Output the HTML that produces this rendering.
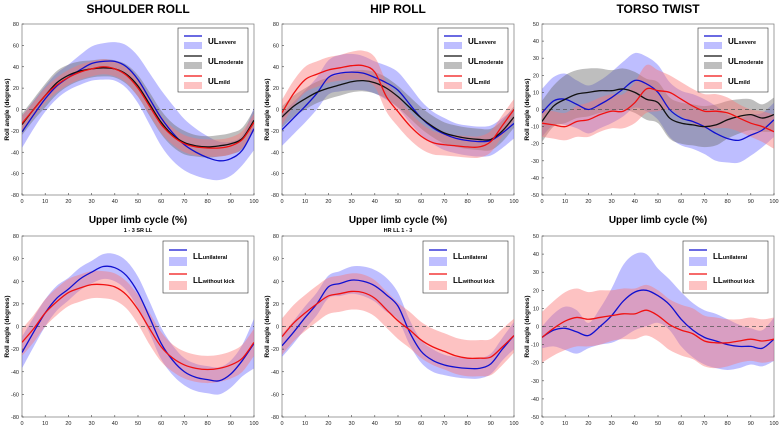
<!DOCTYPE html>
<html><head><meta charset="utf-8"><style>
body{margin:0;background:#fff;font-family:"Liberation Sans",sans-serif}
svg text{font-family:"Liberation Sans",sans-serif}
</style></head><body>
<svg id="c" width="779" height="426" xmlns="http://www.w3.org/2000/svg"></svg>
<script>
const xTicks=[0,10,20,30,40,50,60,70,80,90,100];
const xs=[0,5,10,15,20,25,30,35,40,45,50,55,60,65,70,75,80,85,90,95,100];
// Shoulder roll UL
const srSevere=[-21,-5,10,22,30,37,43,45,45,40,28,10,-8,-22,-33,-40,-45,-48,-46,-38,-18];
const srSevereBand=[15,13,12,12,12,14,16,17,18,20,22,24,26,26,24,22,20,18,16,14,20];
const srModerate=[-14,0,13,25,32,36,38,39,38,33,22,5,-12,-24,-31,-34,-35,-34,-32,-27,-10];
const srModerateBand=[10,10,11,11,10,9,8,8,8,9,10,11,11,11,11,10,10,10,10,10,10];
const srMild=[-13,0,13,23,30,35,38,40,38,32,20,3,-14,-25,-32,-35,-36,-36,-34,-28,-12];
const srMildBand=[7,7,7,7,7,7,7,7,7,7,8,8,8,8,8,8,8,8,8,8,8];
// Hip roll UL
const hrSevere=[-19,-8,3,15,30,34,35,34,30,25,18,5,-8,-17,-23,-27,-29,-30,-29,-22,-13];
const hrSevereBand=[15,15,15,15,16,17,17,16,15,16,17,17,16,15,15,14,14,14,14,14,14];
const hrModerate=[-7,3,10,16,20,23,26,27,25,20,12,2,-8,-16,-22,-25,-27,-28,-28,-20,-7];
const hrModerateBand=[10,10,10,10,10,10,10,10,10,10,10,10,10,10,10,10,10,10,10,10,10];
const hrMild=[-3,15,28,33,37,39,41,41,35,12,-2,-15,-25,-31,-33,-34,-35,-35,-30,-15,0];
const hrMildBand=[12,12,12,12,12,12,13,14,14,14,14,13,12,11,10,10,10,10,10,10,10];
// Torso twist UL
const ttSevere=[-2,5,6,3,0,3,7,12,17,15,10,0,-5,-7,-10,-14,-17,-18,-15,-12,-6];
const ttSevereBand=[14,14,15,14,14,14,15,16,16,16,16,16,16,16,16,16,14,13,12,10,10];
const ttModerate=[-7,2,6,9,10,11,11,12,10,6,4,-5,-8,-9,-10,-9,-6,-4,-3,-5,-3];
const ttModerateBand=[12,12,14,14,14,13,12,12,12,12,12,12,12,12,12,12,11,10,9,8,10];
const ttMild=[-8,-9,-10,-7,-6,-3,-1,-1,4,12,11,10,6,2,-1,-1,-2,-5,-8,-10,-13];
const ttMildBand=[8,8,8,9,10,10,10,10,12,14,12,10,10,10,10,10,9,8,8,9,10];
// LL shoulder
const slUni=[-23,-5,12,25,33,42,48,53,52,45,30,8,-15,-30,-40,-45,-47,-48,-42,-30,-15];
const slUniBand=[14,13,12,11,10,10,10,11,12,13,14,14,14,13,12,12,12,12,12,14,22];
const slNoKick=[-14,-2,12,22,30,34,37,37,35,28,15,-2,-18,-28,-34,-37,-38,-37,-34,-28,-14];
const slNoKickBand=[12,12,12,12,12,12,12,12,12,12,13,14,13,12,12,12,12,12,12,12,12];
// LL hip
const hlUni=[-17,-5,8,20,35,38,41,40,36,28,18,-5,-22,-30,-34,-36,-37,-37,-33,-20,-8];
const hlUniBand=[10,10,10,10,10,11,12,13,14,15,12,11,10,10,9,9,9,9,9,10,12];
const hlNoKick=[-9,3,12,20,27,29,31,30,25,15,5,-3,-12,-18,-22,-26,-28,-28,-27,-18,-8];
const hlNoKickBand=[16,16,16,16,16,16,16,16,16,16,16,16,16,16,16,16,16,16,16,16,15];
// LL torso
const tlUni=[-6,-2,-1,-3,-5,0,6,14,19,20,17,12,4,-2,-6,-8,-10,-11,-11,-12,-7];
const tlUniBand=[6,9,12,12,7,10,15,20,21,20,15,14,15,15,15,15,14,12,10,10,12];
const tlNoKick=[-6,-1,3,5,4,5,6,7,7,9,6,1,-2,-4,-8,-9,-9,-8,-7,-8,-7];
const tlNoKickBand=[14,15,16,16,15,15,14,14,14,14,14,14,14,14,14,14,13,12,12,12,12];
const yTicks80=[80,60,40,20,0,-20,-40,-60,-80];
const yTicks50=[50,40,30,20,10,0,-10,-20,-30,-40,-50];

const NS="http://www.w3.org/2000/svg",svg=document.getElementById('c');
function el(t,a,p){const e=document.createElementNS(NS,t);for(const k in a)e.setAttribute(k,a[k]);(p||svg).appendChild(e);return e;}
function txt(x,y,s,a,p){const e=el('text',Object.assign({x:x,y:y},a),p);e.textContent=s;return e;}
function curve(pts){let d='M'+pts[0][0]+','+pts[0][1];for(let i=0;i<pts.length-1;i++){const p0=pts[Math.max(0,i-1)],p1=pts[i],p2=pts[i+1],p3=pts[Math.min(pts.length-1,i+2)];
d+=' C'+(p1[0]+(p2[0]-p0[0])/6)+','+(p1[1]+(p2[1]-p0[1])/6)+' '+(p2[0]-(p3[0]-p1[0])/6)+','+(p2[1]-(p3[1]-p1[1])/6)+' '+p2[0]+','+p2[1];}return d;}
const COL={blue:['#1010d0','rgba(110,110,255,0.45)'],black:['#111','rgba(110,110,110,0.45)'],red:['#f01010','rgba(250,120,120,0.45)']};
function panel(o){
 const g=el('g',{},svg);
 
 
 const X=v=>o.x0+(o.x1-o.x0)*v/100, Y=v=>o.y0+(o.y1-o.y0)*(o.ymax-v)/(2*o.ymax);
 el('rect',{x:o.x0,y:o.y0,width:o.x1-o.x0,height:o.y1-o.y0,fill:'#fff',stroke:'#777','stroke-width':0.7},g);
 const cp='cp'+o.name;const cl=el('clipPath',{id:cp},g);el('rect',{x:o.x0,y:o.y0,width:o.x1-o.x0,height:o.y1-o.y0},cl);
 const pg=el('g',{'clip-path':'url(#'+cp+')'},g);
 o.series.forEach(s=>{
  const up=xs.map((x,i)=>[X(x),Y(s.m[i]+s.b[i])]), lo=xs.map((x,i)=>[X(x),Y(s.m[i]-s.b[i])]).reverse();
  const band=el('path',{d:curve(up)+' L'+curve(lo).slice(1)+' Z',fill:COL[s.c][1],stroke:'none'},pg);
  
  
 });
 el('line',{x1:o.x0,x2:o.x1,y1:Y(0),y2:Y(0),stroke:'#555','stroke-dasharray':'4,3','stroke-width':0.8},pg);
 o.series.forEach(s=>{
  const ln=el('path',{d:curve(xs.map((x,i)=>[X(x),Y(s.m[i])])),fill:'none',stroke:COL[s.c][0],'stroke-width':1.3},pg);
  
  
 });
 xTicks.forEach(t=>{el('line',{x1:X(t),x2:X(t),y1:o.y1,y2:o.y1-2,stroke:'#444','stroke-width':0.6},g);txt(X(t),o.y1+8,t,{'font-size':5.5,'text-anchor':'middle',fill:'#222'},g);});
 o.yt.forEach(t=>{el('line',{x1:o.x0,x2:o.x0+2,y1:Y(t),y2:Y(t),stroke:'#444','stroke-width':0.6},g);txt(o.x0-3,Y(t)+2,t,{'font-size':5.5,'text-anchor':'end',fill:'#222'},g);});
 const yl=txt(o.x0-13,(o.y0+o.y1)/2,'Roll angle (degrees)',{'font-size':6.5,'font-weight':'bold','text-anchor':'middle',transform:'rotate(-90 '+(o.x0-13)+' '+((o.y0+o.y1)/2)+')'},g);
 
 
 const lx=o.lx,ly=o.ly,lw=o.lw,n=o.series.length,rh=o.rh,lh=n*2*rh+4;
 const lg=el('g',{},g);
 
 
 el('rect',{x:lx,y:ly,width:lw,height:lh,fill:'#fff',stroke:'#333','stroke-width':0.6},lg);
 o.series.forEach((s,i)=>{const yy=ly+3+i*2*rh;
  el('line',{x1:lx+6,x2:lx+24,y1:yy+rh*0.5,y2:yy+rh*0.5,stroke:COL[s.c][0],'stroke-width':1.3},lg);
  el('rect',{x:lx+6,y:yy+rh+1,width:18,height:rh-3,fill:COL[s.c][1]},lg);
  const t=txt(lx+30,yy+rh+3,o.lab,{'font-size':8,'font-weight':'bold'},lg);
  const ts=el('tspan',{'font-size':5.5},t);ts.textContent=s.sub;});
}
const T=[[22,254],[282,514],[542,774]];
const rowTop={y0:24,y1:195},rowBot={y0:236,y1:417};
panel({name:'shoulder-roll-ul',x0:T[0][0],x1:T[0][1],...rowTop,ymax:80,yt:yTicks80,lx:178,ly:28,lw:70,rh:10,lab:'UL',series:[
 {n:'severe',c:'blue',m:srSevere,b:srSevereBand,sub:'severe'},{n:'moderate',c:'black',m:srModerate,b:srModerateBand,sub:'moderate'},{n:'mild',c:'red',m:srMild,b:srMildBand,sub:'mild'}]});
panel({name:'hip-roll-ul',x0:T[1][0],x1:T[1][1],...rowTop,ymax:80,yt:yTicks80,lx:438,ly:28,lw:70,rh:10,lab:'UL',series:[
 {n:'severe',c:'blue',m:hrSevere,b:hrSevereBand,sub:'severe'},{n:'moderate',c:'black',m:hrModerate,b:hrModerateBand,sub:'moderate'},{n:'mild',c:'red',m:hrMild,b:hrMildBand,sub:'mild'}]});
panel({name:'torso-twist-ul',x0:T[2][0],x1:T[2][1],...rowTop,ymax:50,yt:yTicks50,lx:698,ly:28,lw:70,rh:10,lab:'UL',series:[
 {n:'severe',c:'blue',m:ttSevere,b:ttSevereBand,sub:'severe'},{n:'moderate',c:'black',m:ttModerate,b:ttModerateBand,sub:'moderate'},{n:'mild',c:'red',m:ttMild,b:ttMildBand,sub:'mild'}]});
panel({name:'shoulder-roll-ll',x0:T[0][0],x1:T[0][1],...rowBot,ymax:80,yt:yTicks80,lx:163,ly:241,lw:85,rh:12,lab:'LL',series:[
 {n:'unilateral',c:'blue',m:slUni,b:slUniBand,sub:'unilateral'},{n:'without-kick',c:'red',m:slNoKick,b:slNoKickBand,sub:'without kick'}]});
panel({name:'hip-roll-ll',x0:T[1][0],x1:T[1][1],...rowBot,ymax:80,yt:yTicks80,lx:423,ly:241,lw:85,rh:12,lab:'LL',series:[
 {n:'unilateral',c:'blue',m:hlUni,b:hlUniBand,sub:'unilateral'},{n:'without-kick',c:'red',m:hlNoKick,b:hlNoKickBand,sub:'without kick'}]});
panel({name:'torso-twist-ll',x0:T[2][0],x1:T[2][1],...rowBot,ymax:50,yt:yTicks50,lx:683,ly:241,lw:85,rh:12,lab:'LL',series:[
 {n:'unilateral',c:'blue',m:tlUni,b:tlUniBand,sub:'unilateral'},{n:'without-kick',c:'red',m:tlNoKick,b:tlNoKickBand,sub:'without kick'}]});
const titles=[['SHOULDER ROLL',138],['HIP ROLL',398],['TORSO TWIST',658]];
titles.forEach(t=>{const e=txt(t[1],13,t[0],{'font-size':12,'font-weight':'bold','text-anchor':'middle'});
 
 
 const x=txt(t[1],223,'Upper limb cycle (%)',{'font-size':10,'font-weight':'bold','text-anchor':'middle'});
 
 });
const s1=txt(138,232,'1 - 3 SR LL',{'font-size':5.5,'font-weight':'bold','text-anchor':'middle'});


const s2=txt(398,232,'HR LL 1 - 3',{'font-size':5.5,'font-weight':'bold','text-anchor':'middle'});


</script>
</body></html>
